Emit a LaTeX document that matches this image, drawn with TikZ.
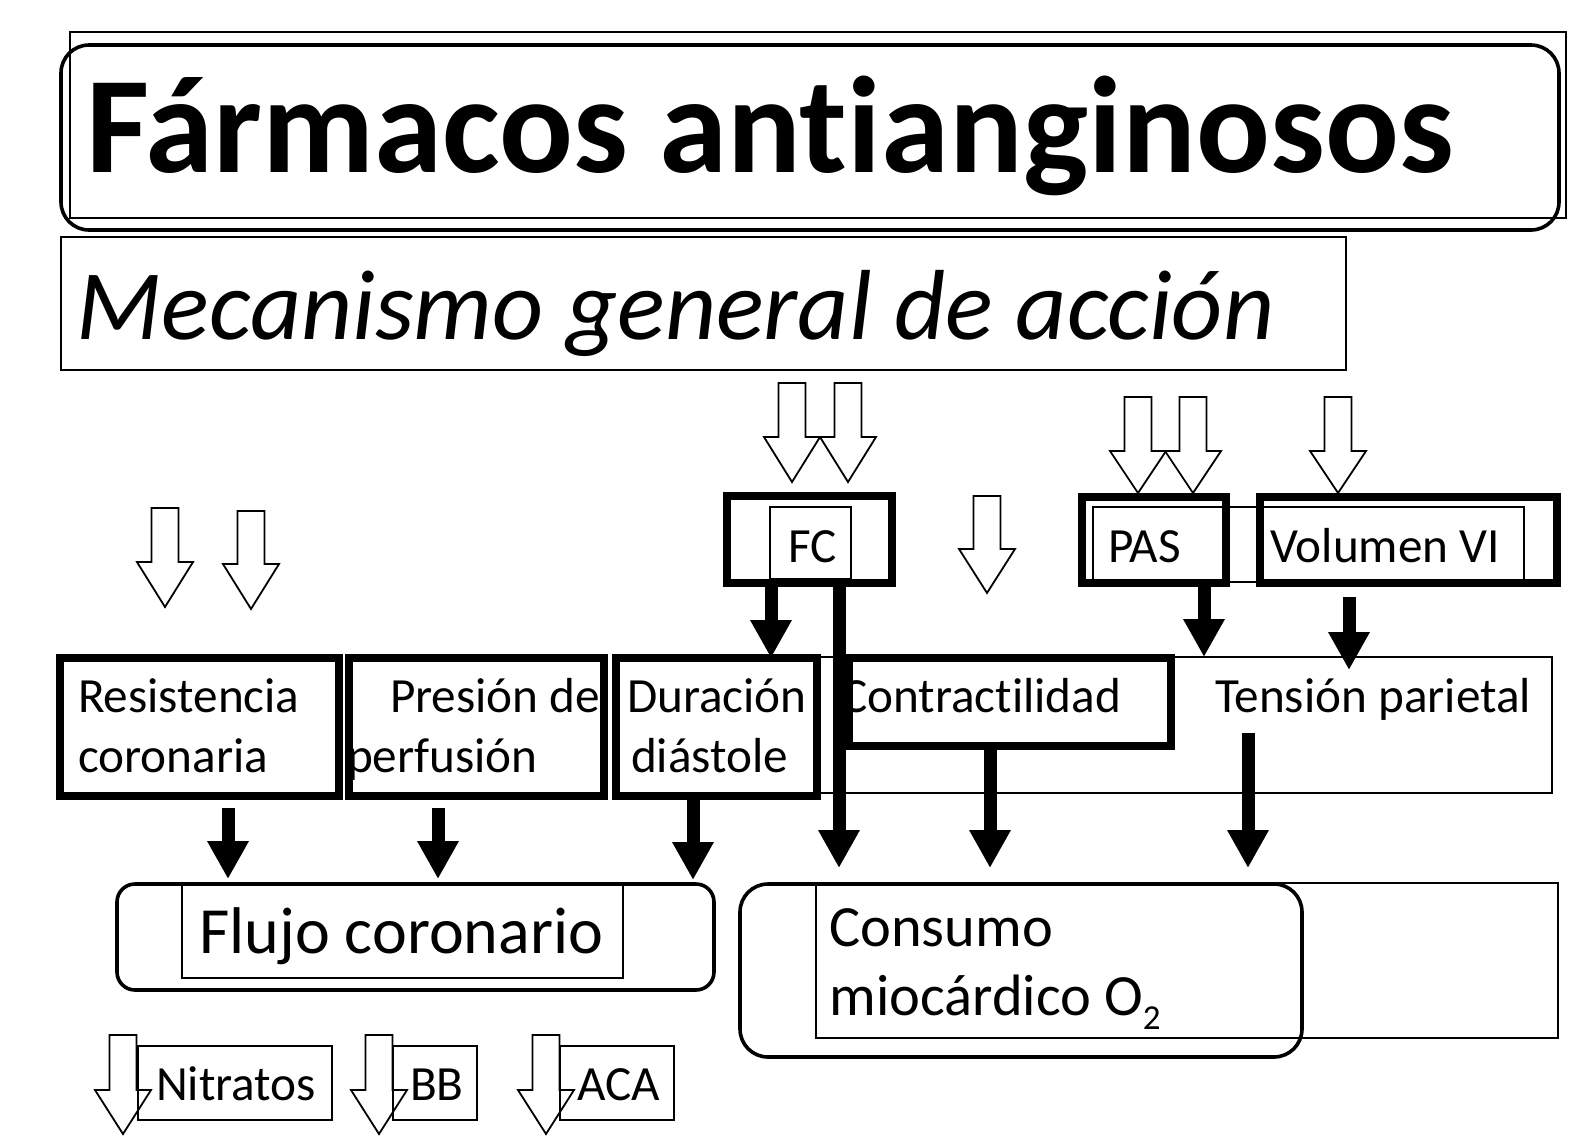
\documentclass[tikz,border=0pt]{standalone}
\usepackage{fontspec}
\setmainfont[Ligatures={NoCommon}]{Carlito}
\usetikzlibrary{arrows.meta,fit}
\newcommand\hollowarr[4]{% center x, top y, head start y, tip y
  \draw[hollow] (#1-13.5,#2) -- (#1+13.5,#2) -- (#1+13.5,#3) -- (#1+28,#3) -- (#1,#4) -- (#1-28,#3) -- (#1-13.5,#3) -- cycle;}
\begin{document}
\begin{tikzpicture}[x=0.5pt,y=-0.5pt,
  thinbox/.style={draw, line width=1pt, inner sep=0pt, outer sep=0pt},
  roundbox/.style={draw, line width=1.8pt, inner sep=0pt, outer sep=0pt},
  thickbox/.style={draw, line width=4.3pt, inner sep=0pt, outer sep=0pt},
  lbl/.style={anchor=base west, inner sep=0pt, outer sep=0pt, font=\fontsize{24.6}{30}\selectfont},
  hollow/.style={draw, line width=0.9pt, line join=miter},
  bigarrow/.style={line width=6.5pt, -{Triangle[width=19.5pt,length=19pt]}},
]
\useasboundingbox (0,0) rectangle (1571,1137);

% title and subtitle
\node[thinbox, fit={(70,32) (1566,218)}] (titleframe) {};
\node[roundbox, rounded corners=14pt, fit={(61,45) (1559,230)}] (titlebox) {};
\node[anchor=base west, inner sep=0pt, font=\fontsize{68.8}{80}\selectfont\bfseries] (title) at (86,172) {Fármacos antianginosos};
\node[thinbox, fit={(61,237) (1346,370)}] (subbox) {};
\node[anchor=base west, inner sep=0pt, font=\fontsize{49.8}{60}\selectfont\itshape] (subtitle) at (76,339) {Mecanismo general de acción};

% hollow arrows
\hollowarr{792}{383}{437}{482}
\hollowarr{848}{383}{437}{482}
\hollowarr{1138}{397}{451}{493}
\hollowarr{1193}{397}{451}{493}
\hollowarr{1338}{397}{451}{493}
\hollowarr{987}{496}{549}{593}
\hollowarr{165}{508}{562}{607}
\hollowarr{251}{511}{564}{609}
\hollowarr{123}{1035}{1090}{1134}
\hollowarr{379}{1035}{1090}{1134}
\hollowarr{546}{1035}{1090}{1134}

% thin boxes
\node[thinbox, fit={(770,507) (851,579)}] (fcin) {};
\node[thinbox, fit={(1093,507) (1524,582)}] (pasvolin) {};
\node[thinbox, fit={(818,657) (1552,793)}] (tens) {};
\node[thinbox, fit={(182,884) (623,978)}] (flujoin) {};
\node[thinbox, fit={(816,883) (1558,1038)}] (consin) {};
\node[thinbox, fit={(138,1046) (332,1120)}] (nitbox) {};
\node[thinbox, fit={(393,1046) (477,1120)}] (bbbox) {};
\node[thinbox, fit={(560,1046) (674,1120)}] (acabox) {};

% rounded boxes
\node[roundbox, rounded corners=9pt, fit={(117,884) (714,990)}] (flujo) {};
\node[roundbox, rounded corners=14pt, fit={(740,884) (1302,1057)}] (cons) {};

% labels
\node[lbl] (fctxt) at (788,562) {FC};
\node[lbl] (pastxt) at (1108,562) {PAS};
\node[lbl] (voltxt) at (1270,562) {Volumen VI};
\node[lbl] (res1) at (78,712) {Resistencia};
\node[lbl] (res2) at (78,772) {coronaria};
\node[lbl] (pres1) at (390,712) {Presión de};
\node[lbl] (pres2) at (347,772) {perfusión};
\node[lbl] (dur1) at (627,712) {Duración};
\node[lbl] (dur2) at (631,772) {diástole};
\node[lbl] (contrtxt) at (841,712) {Contractilidad};
\node[lbl] (tenstxt) at (1215,712) {Tensión parietal};
\node[anchor=base west, inner sep=0pt, font=\fontsize{33}{40}\selectfont] (flujotxt) at (199,953) {Flujo coronario};
\node[anchor=base west, inner sep=0pt, font=\fontsize{29.2}{34}\selectfont] (cons1) at (829,946) {Consumo};
\node[anchor=base west, inner sep=0pt, font=\fontsize{29.2}{34}\selectfont] (cons2) at (829,1015) {miocárdico O\raisebox{-7pt}{\fontsize{17.5}{18}\selectfont 2}};
\node[lbl] (nittxt) at (156,1100) {Nitratos};
\node[lbl] (bbtxt) at (410,1100) {BB};
\node[lbl] (acatxt) at (577,1100) {ACA};

% thick boxes
\node[thickbox, fit={(727,496) (892,583)}] (fc) {};
\node[thickbox, fit={(1082,497) (1226,583)}] (pas) {};
\node[thickbox, fit={(1260,497) (1557,583)}] (vol) {};
\node[thickbox, fit={(60,658) (339,796)}] (res) {};
\node[thickbox, fit={(349,658) (604,796)}] (pres) {};
\node[thickbox, fit={(616,658) (817,796)}] (dur) {};
\node[thickbox, fit={(849,658) (1171,746)}] (contr) {};

% connector coordinates
\coordinate (volstart) at (1349,597);
\coordinate (tensstart) at (1248,733);
\coordinate (resstart) at (228,808);
\coordinate (presstart) at (438,808);
\coordinate (cfc) at (839,868);
\coordinate (ccontr) at (990,868);
\coordinate (ctens) at (1248,868);
\coordinate (fres) at (228,879);
\coordinate (fpres) at (438,879);
\coordinate (fdur) at (693,880);

% thick arrows
\draw[bigarrow] (fc.south -| 771,0) -- (dur.north -| 771,0);
\draw[bigarrow] (fc.south -| 839,0) -- (cfc);
\draw[bigarrow] (pas.south -| 1204,0) -- (tens.north -| 1204,0);
\draw[bigarrow] (volstart) -- (1349,670);
\draw[bigarrow] (resstart) -- (fres);
\draw[bigarrow] (presstart) -- (fpres);
\draw[bigarrow] (dur.south -| 693,0) -- (fdur);
\draw[bigarrow] (contr.south -| 990,0) -- (ccontr);
\draw[bigarrow] (tensstart) -- (ctens);
\end{tikzpicture}
\end{document}
